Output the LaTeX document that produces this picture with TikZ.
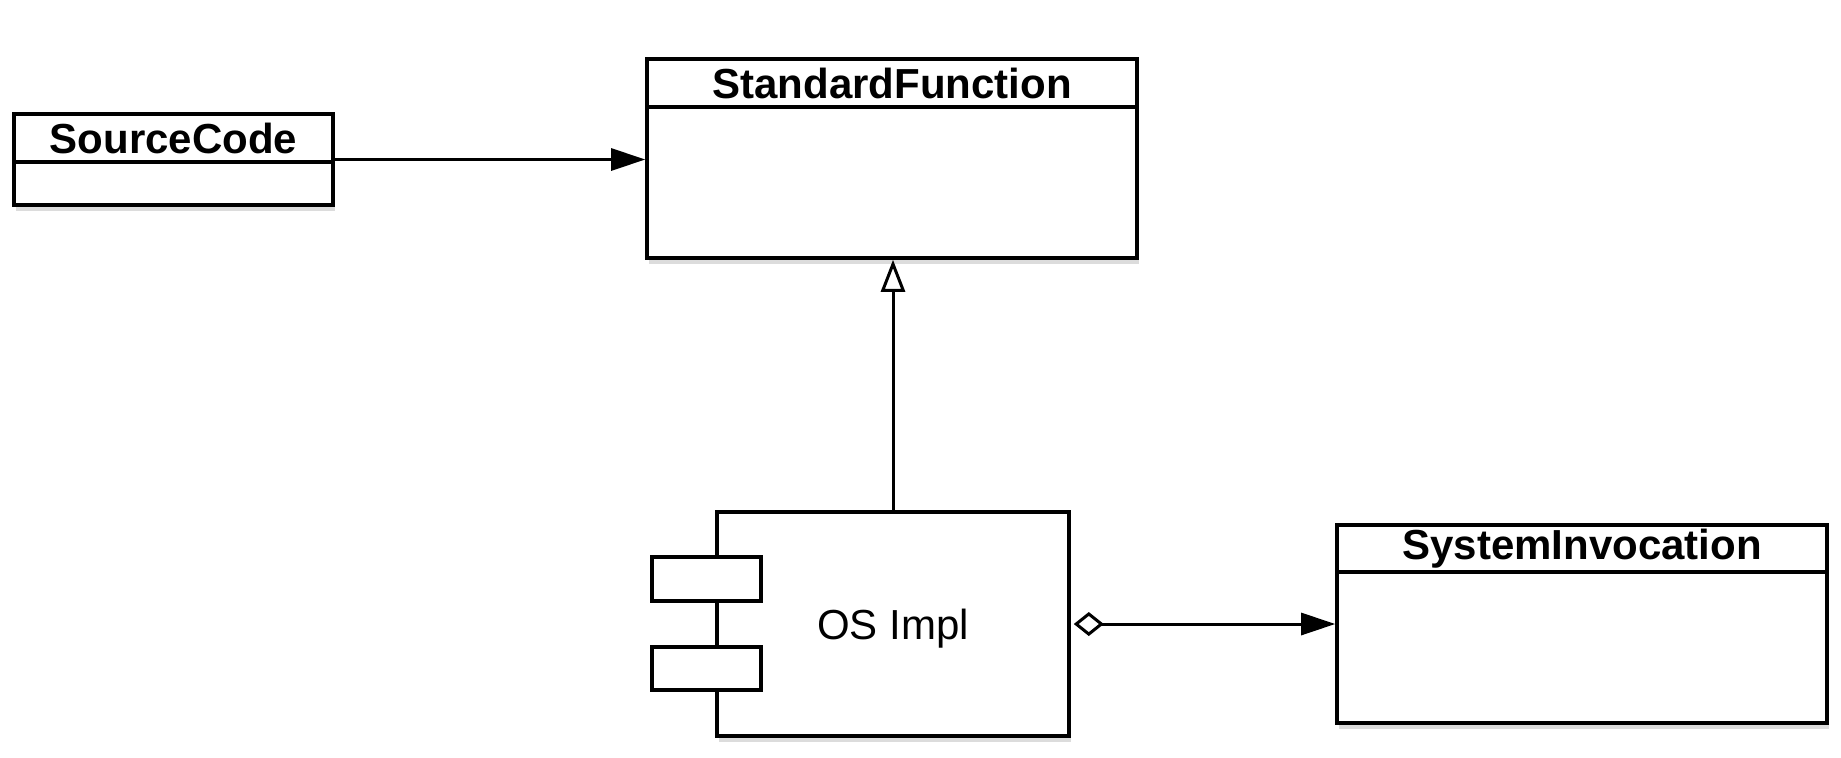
\documentclass[tikz,border=0pt]{standalone}
\usepackage{fontspec}
\setmainfont{Liberation Sans}
\usetikzlibrary{arrows.meta,shadows}
\begin{document}
\begin{tikzpicture}[x=0.5pt,y=-0.5pt,
  box/.style={draw,line width=1.8pt,fill=white,inner sep=0pt,
    drop shadow={shadow xshift=1.2pt,shadow yshift=-3pt,opacity=0.28}},
  port/.style={draw,line width=1.8pt,fill=white,inner sep=0pt},
  title/.style={font=\fontsize{21}{25}\selectfont\bfseries,inner sep=0pt},
  conn/.style={line width=1.5pt},
  divider/.style={line width=1.8pt}]
\path[use as bounding box] (0,0) rectangle (1841,757);

% SourceCode
\node[box,minimum width=159.5pt,minimum height=45.5pt] (src) at (173.5,159.5) {};
\draw[divider] ([yshift=-25pt]src.north west) -- ([yshift=-25pt]src.north east);
\node[title] (srct) at ([yshift=-13pt]src.north) {SourceCode};

% StandardFunction
\node[box,minimum width=245pt,minimum height=99.5pt] (sf) at (892,158.5) {};
\draw[divider] ([yshift=-25pt]sf.north west) -- ([yshift=-25pt]sf.north east);
\node[title] (sft) at ([yshift=-13pt]sf.north) {StandardFunction};

% SystemInvocation
\node[box,minimum width=245pt,minimum height=99pt] (si) at (1582,624) {};
\draw[divider] ([yshift=-24.5pt]si.north west) -- ([yshift=-24.5pt]si.north east);
\node[title] (sit) at ([yshift=-12.75pt]si.north) {SystemInvocation};

% OS Impl component
\node[box,minimum width=176pt,minimum height=112pt,text depth=0pt,font=\fontsize{21}{25}\selectfont] (os) at (893,624) {OS Impl};
\node[port,minimum width=54.5pt,minimum height=22pt] (p1) at (706.5,579) {};
\node[port,minimum width=54.5pt,minimum height=21.5pt] (p2) at (706.5,668.5) {};

% connectors
\draw[conn,-{Triangle[length=17pt,width=11pt]}] (src.east) -- (src.east -| sf.west);
\draw[conn,-{Triangle[open,length=16pt,width=12pt]}] (os.north) -- (os.north |- sf.south);
\draw[conn,{Diamond[open,length=15pt,width=12pt]}-{Triangle[length=17pt,width=11pt]}] ([xshift=1.5pt]os.east) -- (os.east -| si.west);
\end{tikzpicture}
\end{document}
